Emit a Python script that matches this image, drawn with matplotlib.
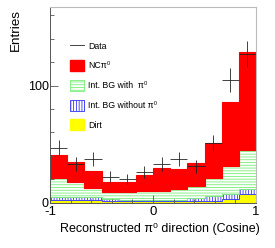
import numpy as np
import matplotlib
matplotlib.use("Agg")
import matplotlib.pyplot as plt
from matplotlib.patches import Patch
from matplotlib.lines import Line2D

plt.rcParams['font.family'] = ['Liberation Sans', 'DejaVu Sans']
plt.rcParams['hatch.linewidth'] = 0.6

edges = np.linspace(-1, 1, 13)
dirt = [2.3, 2.3, 2.3, 1.5, 1.5, 1.5, 1.5, 1.5, 1.5, 1.7, 3.2, 7.5]
bg_without = [2.7, 2.7, 2.2, 1.5, 1.0, 1.0, 1.0, 1.0, 2.2, 4.3, 4.3, 4.5]
bg_with = [16.4, 12.5, 7.8, 5.9, 6.4, 7.0, 7.5, 9.2, 10.6, 15.0, 23.5, 33.0]
ncpi0 = [18.9, 16.8, 14.3, 8.6, 9.1, 14.5, 19.5, 16.9, 19.4, 30.0, 55.0, 84.0]
data = [47, 33, 37, 22, 20, 26, 33, 37, 31, 51, 105, 127]

labels = ["Data", "NC\u03c0\u2070", "Int. BG with  \u03c0\u2070",
          "Int. BG without \u03c0\u2070", "Dirt"]

fig = plt.figure(figsize=(2.75, 2.48), dpi=100)
ax = fig.add_axes([0.182, 0.183, 0.749, 0.788])

b0 = np.zeros(12)
b1 = b0 + np.array(dirt)
b2 = b1 + np.array(bg_without)
b3 = b2 + np.array(bg_with)
b4 = b3 + np.array(ncpi0)

ax.stairs(b1, edges, baseline=b0, fill=True, facecolor='#ffff00', edgecolor='#999900', lw=0.8)
ax.stairs(b2, edges, baseline=b1, fill=True, facecolor='white', edgecolor='#3333ff', hatch='||||||', lw=0.6)
ax.stairs(b3, edges, baseline=b2, fill=True, facecolor='white', edgecolor='#77ee77', hatch='------', lw=0.6)
ax.stairs(b4, edges, baseline=b3, fill=True, facecolor='#ff0000', edgecolor='#ff0000', lw=0.8)

centers = 0.5 * (edges[:-1] + edges[1:])
halfw = 0.5 * (edges[1] - edges[0])
ax.errorbar(centers, data, xerr=halfw, yerr=np.sqrt(data), fmt='none',
            ecolor='#222222', elinewidth=0.6, capsize=0)

ax.set_xlim(-1, 1)
ax.set_ylim(0, 167)
ax.set_xticks([-1, 0, 1])
ax.set_xticklabels(['-1', '0', '1'])
ax.set_xticks(np.arange(-1, 1.01, 0.2), minor=True)
ax.set_yticks([0, 100])
ax.set_yticks(np.arange(0, 167, 20), minor=True)
ax.tick_params(axis='both', which='both', direction='in', colors='#555555', labelcolor='black')
ax.tick_params(axis='x', which='major', length=6, width=0.6, labelsize=9.5, pad=2.5)
ax.tick_params(axis='y', which='major', length=6, width=0.6, labelsize=9, pad=1)
ax.tick_params(axis='both', which='minor', length=3, width=0.6)

for s in ['left', 'bottom']:
    ax.spines[s].set_color('#555555')
    ax.spines[s].set_linewidth(0.7)
for s in ['top', 'right']:
    ax.spines[s].set_color('#bbbbbb')
    ax.spines[s].set_linewidth(0.8)

ax.set_ylabel('Entries', fontsize=9.7)
ax.yaxis.set_label_coords(-0.136, 0.885)
ax.set_xlabel('Reconstructed \u03c0\u2070 direction (Cosine)', fontsize=9)
ax.xaxis.set_label_coords(1.02, -0.105)
ax.xaxis.label.set_horizontalalignment('right')

handles = [
    Line2D([], [], color='#222222', lw=0.6),
    Patch(facecolor='#ff0000', edgecolor='#ff0000'),
    Patch(facecolor='white', edgecolor='#77ee77', hatch='------', lw=0.6),
    Patch(facecolor='white', edgecolor='#3333ff', hatch='||||||', lw=0.6),
    Patch(facecolor='#ffff00', edgecolor='#ffff00'),
]
ax.legend(handles, labels, loc='upper left', bbox_to_anchor=(0.095, 0.83),
          frameon=False, fontsize=6.3, handlelength=1.6, handleheight=1.55,
          handletextpad=0.5, labelspacing=1.0, borderaxespad=0, borderpad=0)

fig.savefig('out.png', dpi=100)
